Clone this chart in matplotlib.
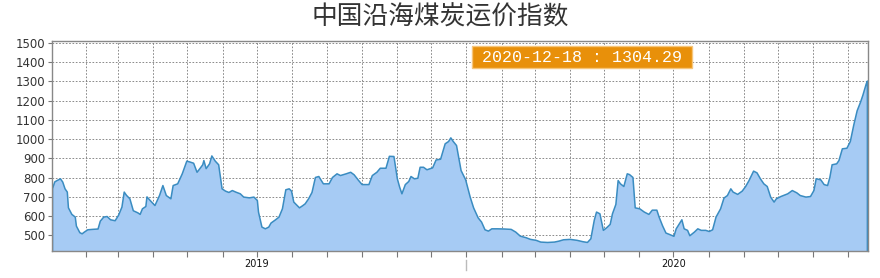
import pandas as pd
import matplotlib
matplotlib.use('Agg')
import matplotlib.pyplot as plt
import matplotlib.dates as mdates
import matplotlib.transforms as mtransforms
from matplotlib.patches import Rectangle

#Index values
#days counted from 2019-01-01
start_date = '2019-01-01'
days = [1, 3, 5, 8, 10, 12, 14, 15, 18, 21, 22, 25, 27, 29, 32, 36, 41, 43,
        46, 49, 52, 56, 59, 62, 64, 66, 69, 72, 76, 78, 80, 83, 84, 87, 91,
        95, 98, 101, 105, 107, 111, 115, 119, 122, 125, 128, 131, 133, 134,
        136, 139, 141, 144, 147, 150, 153, 156, 159, 162, 166, 169, 174, 178,
        181, 182, 185, 188, 191, 193, 197, 200, 203, 206, 209, 211, 213, 218,
        221, 223, 226, 229, 232, 235, 239, 244, 247, 251, 254, 259, 263, 266,
        270, 273, 279, 282, 286, 289, 294, 297, 301, 304, 306, 308, 311, 314,
        316, 319, 322, 324, 327, 330, 335, 338, 342, 346, 349, 351, 353, 356,
        360, 364, 368, 371, 375, 378, 381, 384, 387, 392, 398, 404, 408, 412,
        417, 421, 426, 430, 436, 442, 446, 450, 456, 462, 467, 471, 474, 477,
        479, 482, 485, 488, 491, 493, 496, 498, 500, 503, 506, 508, 511, 513,
        517, 521, 525, 528, 532, 534, 537, 540, 543, 547, 549, 554, 556, 559,
        561, 565, 568, 571, 575, 578, 581, 584, 588, 591, 594, 597, 599, 603,
        607, 610, 613, 617, 620, 623, 626, 629, 632, 635, 637, 641, 647, 651,
        655, 658, 663, 667, 670, 672, 676, 679, 682, 684, 686, 690, 692, 695,
        699, 702, 705, 708, 711, 713, 716, 717]
index_values = [745, 780, 787, 796, 779, 744, 727, 645, 611, 597, 550, 516,
                510, 519, 531, 533, 535, 576, 597, 600, 583, 578, 606, 649,
                727, 710, 692, 630, 619, 611, 640, 652, 702, 682, 657, 709,
                761, 709, 692, 761, 770, 822, 888, 883, 877, 830, 853, 869,
                891, 849, 874, 915, 888, 869, 744, 732, 725, 735, 727, 718,
                701, 697, 701, 683, 623, 545, 536, 545, 566, 583, 597, 640,
                739, 744, 732, 675, 645, 657, 666, 692, 725, 803, 808, 770,
                770, 803, 822, 813, 822, 830, 817, 787, 766, 766, 813, 830,
                851, 851, 913, 912, 796, 753, 718, 766, 782, 808, 796, 799,
                856, 856, 843, 853, 894, 898, 978, 990, 1009, 991, 969, 839,
                791, 701, 645, 593, 571, 531, 524, 536, 536, 535, 533, 519,
                498, 490, 481, 476, 467, 465, 467, 472, 479, 481, 476, 469,
                465, 484, 580, 623, 614, 528, 542, 559, 614, 663, 787, 770,
                756, 822, 818, 803, 645, 640, 623, 611, 633, 633, 597, 552,
                514, 507, 497, 536, 583, 536, 528, 500, 519, 536, 528, 528,
                522, 531, 597, 640, 696, 709, 744, 727, 715, 732, 756, 787,
                836, 827, 796, 770, 756, 701, 675, 692, 704, 718, 735, 723,
                709, 701, 704, 735, 796, 791, 766, 761, 803, 869, 874, 891,
                952, 955, 990, 1075, 1150, 1195, 1230, 1290, 1304.29]
y_ticks = [500, 600, 700, 800, 900, 1000, 1100, 1200, 1300, 1400, 1500]
year_labels = ['2019', '2020']
year_label_dates = ['2019-07-01', '2020-07-01']
year_break = '2020-01-01'

dates = pd.Timestamp(start_date) + pd.to_timedelta(days, unit='D')
last_label = '%s : %.2f' % (dates[-1].strftime('%Y-%m-%d'), index_values[-1])

plt.rcParams['font.family'] = ['DejaVu Sans']

fig = plt.figure(figsize=(8.8, 2.78), dpi=100)
ax = fig.add_axes([0.0591, 0.0971, 0.9273, 0.7554])

line_color = '#3a8cc1'
ax.fill_between(dates, index_values, 0, facecolor='#a6cbf4',
                edgecolor=line_color, linewidth=1.1, zorder=2)

ax.set_ylim(418, 1510)
ax.set_xlim(dates[0], dates[-1] + pd.Timedelta(days=1))
ax.set_yticks(y_ticks)
ax.tick_params(axis='y', labelsize=8.5, colors='#777777',
               length=3, width=0.8, pad=2)
for lab in ax.get_yticklabels():
    lab.set_color('#333333')

#monthly ticks and gridlines, year labels in the middle of each year
ax.xaxis.remove_overlapping_locs = False
ax.xaxis.set_major_locator(mdates.MonthLocator())
ax.xaxis.set_major_formatter(plt.NullFormatter())
ax.set_xticks(pd.to_datetime(year_label_dates), minor=True)
ax.set_xticklabels(year_labels, minor=True)
ax.tick_params(axis='x', which='major', length=4, width=0.8, colors='#777777')
ax.tick_params(axis='x', which='minor', length=0, labelsize=7,
               labelcolor='#111111', pad=6)

ax.grid(True, which='major', color='#777777', linestyle=(0, (2, 2)),
        linewidth=0.6, zorder=1)
ax.set_axisbelow(True)
for spine in ax.spines.values():
    spine.set_color('#888888')
    spine.set_linewidth(1)

#year separator below the axis
trans = mtransforms.blended_transform_factory(ax.transData, ax.transAxes)
ax.plot([pd.Timestamp(year_break)] * 2, [-0.043, -0.09], color='#bbbbbb',
        linewidth=1, transform=trans, clip_on=False)

#label of the latest value
ax.add_patch(Rectangle((0.5147, 0.8702), 0.2696, 0.1046,
                       transform=ax.transAxes, facecolor='#e8900a',
                       edgecolor='#f6c57a', linewidth=1, zorder=5))
ax.text(0.6495, 0.9225, last_label, transform=ax.transAxes, ha='center',
        va='center', color='white', fontsize=12, family='Liberation Mono',
        zorder=6)

fig.text(0.5, 0.935, '中国沿海煤炭运价指数', ha='center', va='center',
         fontsize=18.5, color='#333333',
         family=['Noto Sans CJK SC', 'DejaVu Sans'])

fig.savefig('out.png', dpi=100)
